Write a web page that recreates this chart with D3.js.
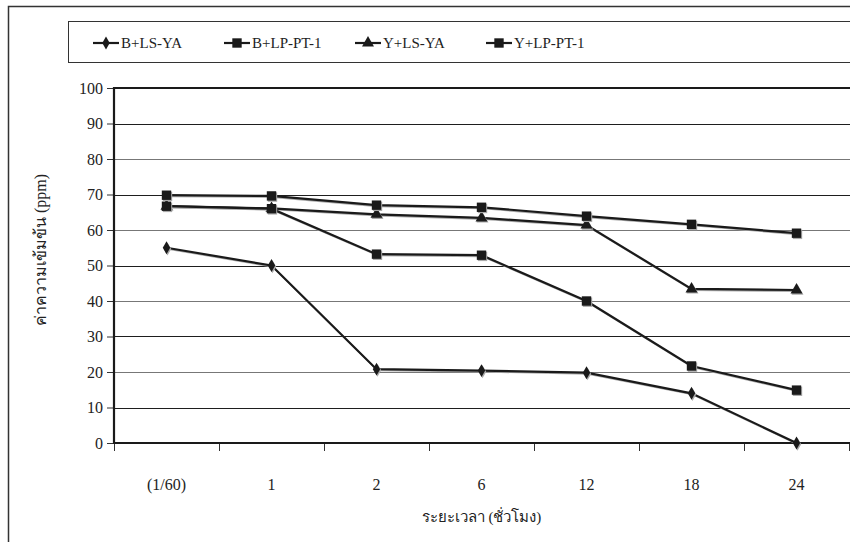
<!DOCTYPE html>
<html>
  <head>
    <meta charset="utf-8">
    <title>Concentration chart</title>
    <script src="https://d3js.org/d3.v7.min.js"></script>
    <style>
      body { margin: 0; background: #fff; }
      svg text { font-family: "Liberation Serif", "Times New Roman", serif; fill: #222; }
    </style>
  </head>
  <body>
    <div class="chart"></div>
    <script>
      // data
      var categories = ["(1/60)", "1", "2", "6", "12", "18", "24"];
      var yTicks = [0, 10, 20, 30, 40, 50, 60, 70, 80, 90, 100];
      var seriesNames = ["B+LS-YA", "B+LP-PT-1", "Y+LS-YA", "Y+LP-PT-1"];
      var bLsYa   = [55, 50, 20.8, 20.4, 19.8, 14, 0];
      var bLpPt1  = [66.7, 66, 53.2, 52.9, 40, 21.7, 14.9];
      var yLsYa   = [66.7, 66.1, 64.4, 63.4, 61.4, 43.4, 43.1];
      var yLpPt1  = [69.8, 69.6, 67, 66.4, 63.9, 61.6, 59.1];

      var W = 850, H = 542;
      var plotL = 114, plotR = 849, plotT = 88, plotB = 443;

      var svg = d3.select(".chart").append("svg")
        .attr("width", W)
        .attr("height", H);

      var x = d3.scaleBand().domain(categories).range([plotL, plotR]);
      var y = d3.scaleLinear().domain([0, 100]).range([plotB, plotT]);
      var cx = function(c) { return x(c) + x.bandwidth() / 2; };

      // outer frame (top + left edges visible)
      svg.append("path")
        .attr("d", "M8.5," + H + "V6.5H" + W)
        .attr("fill", "none")
        .attr("stroke", "#333")
        .attr("stroke-width", 1.5);

      // gridlines
      svg.append("g")
        .selectAll("line")
        .data(yTicks.filter(function(d) { return d > 0 && d < 100; }))
        .enter().append("line")
          .attr("x1", plotL)
          .attr("x2", W)
          .attr("y1", function(d) { return Math.round(y(d)) + 0.5; })
          .attr("y2", function(d) { return Math.round(y(d)) + 0.5; })
          .attr("stroke", function(d) { return (d / 10) % 2 ? "#1e1e1e" : "#777"; })
          .attr("stroke-width", 1);

      // y axis
      var yAxis = svg.append("g")
        .attr("transform", "translate(" + plotL + ",0)")
        .call(d3.axisLeft(y).tickValues(yTicks).tickSize(7).tickPadding(4));
      yAxis.select(".domain").remove();
      yAxis.selectAll("line").attr("stroke", "#333");
      yAxis.selectAll("text").style("font-size", "16px").attr("fill", "#222");

      // x axis labels
      var xAxis = svg.append("g")
        .attr("transform", "translate(0," + plotB + ")")
        .call(d3.axisBottom(x).tickSize(0).tickPadding(36));
      xAxis.select(".domain").remove();
      xAxis.selectAll("text").style("font-size", "16px").attr("fill", "#222");

      // x ticks at category boundaries
      var edges = categories.map(function(c) { return x(c); }).concat([plotR]);
      svg.append("g")
        .selectAll("line")
        .data(edges)
        .enter().append("line")
          .attr("x1", function(d) { return Math.round(d) + 0.5; })
          .attr("x2", function(d) { return Math.round(d) + 0.5; })
          .attr("y1", plotB)
          .attr("y2", plotB + 8)
          .attr("stroke", "#333");

      // plot frame: top, left, bottom
      svg.append("path")
        .attr("d", "M" + W + "," + plotT + "H" + plotL + "V" + plotB + "H" + W)
        .attr("fill", "none")
        .attr("stroke", "#1a1a1a")
        .attr("stroke-width", 2.2);

      // series
      var series = [
        { name: seriesNames[0], values: bLsYa,  symbol: d3.symbolDiamond,  size: 48 },
        { name: seriesNames[2], values: yLsYa,  symbol: d3.symbolTriangle, size: 62 },
        { name: seriesNames[1], values: bLpPt1, symbol: d3.symbolSquare,   size: 88 },
        { name: seriesNames[3], values: yLpPt1, symbol: d3.symbolSquare,   size: 88 }
      ];

      var line = d3.line()
        .x(function(d, i) { return cx(categories[i]); })
        .y(function(d) { return y(d); });

      series.forEach(function(s) {
        var g = svg.append("g");
        // soft shadow like the original rendering
        g.append("path")
          .attr("d", line(s.values))
          .attr("transform", "translate(1,1.2)")
          .attr("fill", "none")
          .attr("stroke", "#aaa")
          .attr("stroke-width", 1.6);
        g.append("path")
          .attr("d", line(s.values))
          .attr("fill", "none")
          .attr("stroke", "#1a1a1a")
          .attr("stroke-width", 2.2);
        g.selectAll(".shadow")
          .data(s.values)
          .enter().append("path")
            .attr("class", "shadow")
            .attr("transform", function(d, i) { return "translate(" + (cx(categories[i]) + 1) + "," + (y(d) + 1.2) + ")"; })
            .attr("d", d3.symbol().type(s.symbol).size(s.size))
            .attr("fill", "#aaa");
        g.selectAll(".mark")
          .data(s.values)
          .enter().append("path")
            .attr("class", "mark")
            .attr("transform", function(d, i) { return "translate(" + cx(categories[i]) + "," + y(d) + ")"; })
            .attr("d", d3.symbol().type(s.symbol).size(s.size))
            .attr("fill", "#1a1a1a");
      });

      // legend box
      svg.append("rect")
        .attr("x", 68.5)
        .attr("y", 21.5)
        .attr("width", W)
        .attr("height", 41)
        .attr("fill", "none")
        .attr("stroke", "#333")
        .attr("stroke-width", 1);

      var legendSymbols = [d3.symbolDiamond, d3.symbolSquare, d3.symbolTriangle, d3.symbolSquare];
      var legendSizes = [48, 88, 62, 88];
      var legend = svg.append("g")
        .selectAll("g")
        .data(seriesNames)
        .enter().append("g")
          .attr("transform", function(d, i) { return "translate(" + (106 + i * 131) + ",43)"; });
      legend.append("line")
        .attr("x1", -13).attr("x2", 13)
        .attr("stroke", "#1a1a1a")
        .attr("stroke-width", 2.2);
      legend.append("path")
        .attr("d", function(d, i) { return d3.symbol().type(legendSymbols[i]).size(legendSizes[i])(); })
        .attr("fill", "#1a1a1a");
      legend.append("text")
        .attr("x", 15)
        .attr("dy", "0.35em")
        .style("font-size", "15px")
        .text(function(d) { return d; });

      // axis titles
      svg.append("text")
        .attr("x", (plotL + plotR) / 2)
        .attr("y", 522)
        .attr("text-anchor", "middle")
        .style("font-size", "15px")
        .text("ระยะเวลา (ชั่วโมง)");

      svg.append("text")
        .attr("transform", "translate(40,250) rotate(-90)")
        .attr("text-anchor", "middle")
        .attr("dy", "0.35em")
        .style("font-size", "16px")
        .text("ค่าความเข้มข้น (ppm)");
    </script>
  </body>
</html>
